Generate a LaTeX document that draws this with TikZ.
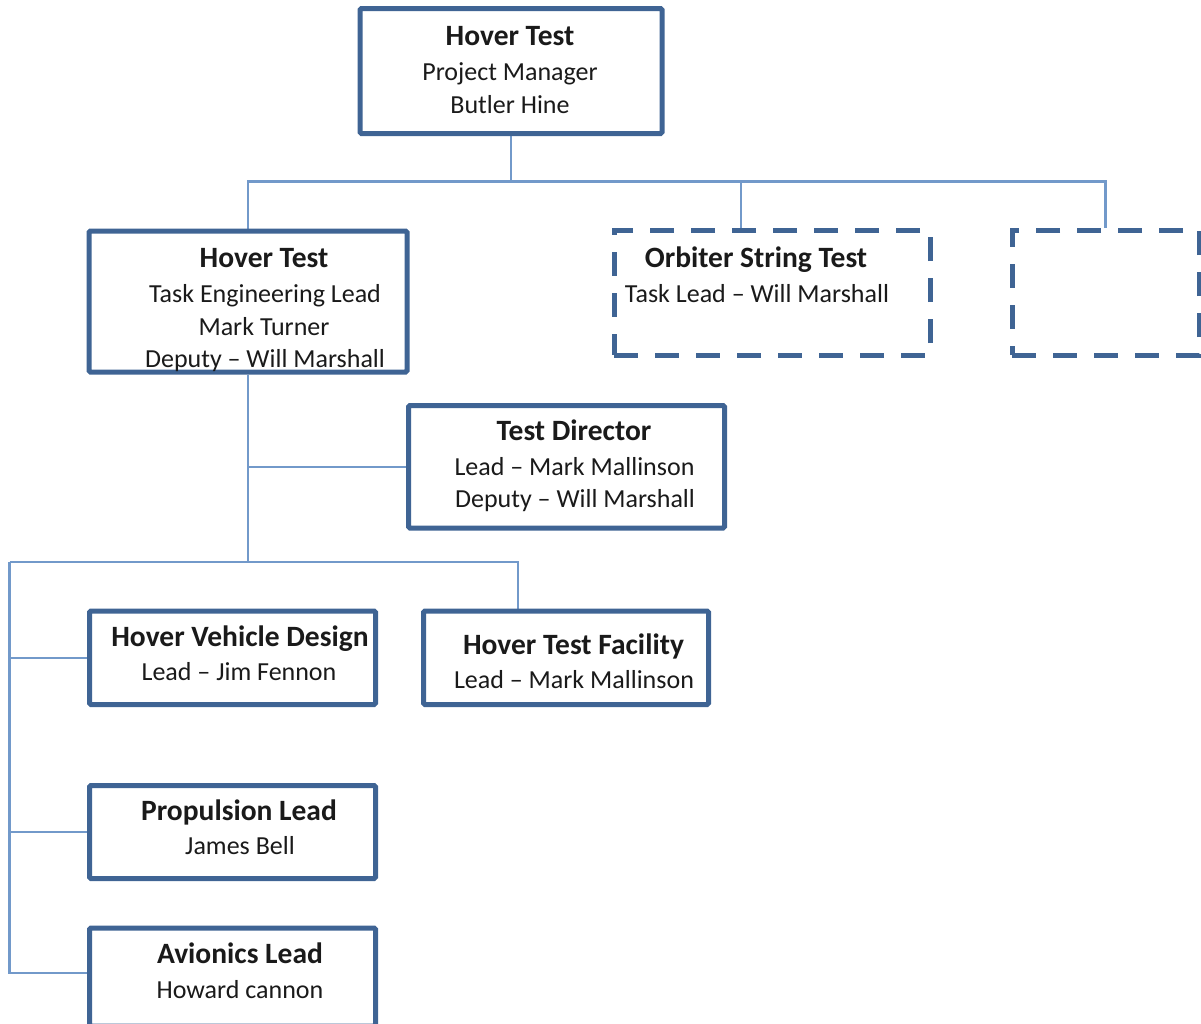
\documentclass[tikz,border=0pt]{standalone}
\usepackage{fontspec}
\setmainfont{Carlito}
\usetikzlibrary{backgrounds}
\definecolor{boxblue}{HTML}{3F6494}
\definecolor{lineblue}{HTML}{7299CA}
\definecolor{txtcol}{HTML}{1A1A1A}
\tikzset{
  box/.style={draw=boxblue, line width=5pt, fill=white, rounded corners=1.5pt, inner sep=0pt},
  dbox/.style={draw=boxblue, line width=5pt, fill=white, dash pattern=on 24pt off 17pt, inner sep=0pt},
  conn/.style={draw=lineblue, line width=2.4pt},
  ttl/.style={font=\fontsize{29.5}{35}\selectfont\bfseries, text=txtcol, anchor=base, inner sep=0pt},
  bdy/.style={font=\fontsize{26}{31}\selectfont, text=txtcol, anchor=base, inner sep=0pt}
}
\begin{document}
\begin{tikzpicture}[x=1pt,y=-1pt]
\useasboundingbox (0,0) rectangle (1201,1023);
% boxes
\node[box, minimum width=302pt, minimum height=125pt] (top) at (511,71) {};
\node[box, minimum width=318pt, minimum height=141pt] (ht) at (248,301.5) {};
\node[dbox, minimum width=316pt, minimum height=125pt] (orb) at (772,292.5) {};
\node[dbox, minimum width=187pt, minimum height=125pt] (emp) at (1105.5,292.5) {};
\node[box, minimum width=316pt, minimum height=122.5pt] (td) at (566.5,466.75) {};
\node[box, minimum width=286pt, minimum height=93.5pt] (hvd) at (232.5,657.75) {};
\node[box, minimum width=285pt, minimum height=93.5pt] (htf) at (566,657.75) {};
\node[box, minimum width=286pt, minimum height=93pt] (prop) at (232.5,832) {};
\node[box, minimum width=286pt, minimum height=98pt] (avi) at (232.5,977) {};
% junction coordinates
\coordinate (j1) at (511,181.5);
\coordinate (jo) at (741,181.5);
\coordinate (jtd) at (248,466.75);
\coordinate (j2) at (248,562);
\coordinate (jl) at (9.5,562);
\coordinate (jr) at (518,562);
% connectors
\begin{pgfonlayer}{background}
\draw[conn] (top.south) -- (j1);
\draw[conn] (ht.north) -- (ht.north |- j1) -- (emp.north |- j1) -- (emp.north);
\draw[conn] (jo) -- (jo |- orb.north);
\draw[conn] (ht.south) -- (j2);
\draw[conn] (jtd) -- (td.west);
\draw[conn] (jl) -- (jr) -- (jr |- htf.north);
\draw[conn] (jl) -- (jl |- 0,973) -- ([yshift=4pt]avi.west);
\draw[conn] (jl |- hvd.west) -- (hvd.west);
\draw[conn] (jl |- prop.west) -- (prop.west);
\end{pgfonlayer}
% texts
\node[ttl] (t1a) at (510,45) {Hover Test};
\node[bdy] (t1b) at (510,80) {Project Manager};
\node[bdy] (t1c) at (510,113) {Butler Hine};
\node[ttl] (t2a) at (264,267) {Hover Test};
\node[bdy] (t2b) at (265,302) {Task Engineering Lead};
\node[bdy] (t2c) at (264,335) {Mark Turner};
\node[bdy] (t2d) at (265,367) {Deputy – Will Marshall};
\node[ttl] (t3a) at (756,267) {Orbiter String Test};
\node[bdy] (t3b) at (757,302) {Task Lead – Will Marshall};
\node[ttl] (t4a) at (574,440) {Test Director};
\node[bdy] (t4b) at (574.5,475) {Lead – Mark Mallinson};
\node[bdy] (t4c) at (575,507) {Deputy – Will Marshall};
\node[ttl] (t5a) at (240,646) {Hover Vehicle Design};
\node[bdy] (t5b) at (239,680) {Lead – Jim Fennon};
\node[ttl] (t6a) at (573.5,654) {Hover Test Facility};
\node[bdy] (t6b) at (574,688) {Lead – Mark Mallinson};
\node[ttl] (t7a) at (239,820) {Propulsion Lead};
\node[bdy] (t7b) at (240,854) {James Bell};
\node[ttl] (t8a) at (240,963) {Avionics Lead};
\node[bdy] (t8b) at (240,998) {Howard cannon};
\end{tikzpicture}
\end{document}
